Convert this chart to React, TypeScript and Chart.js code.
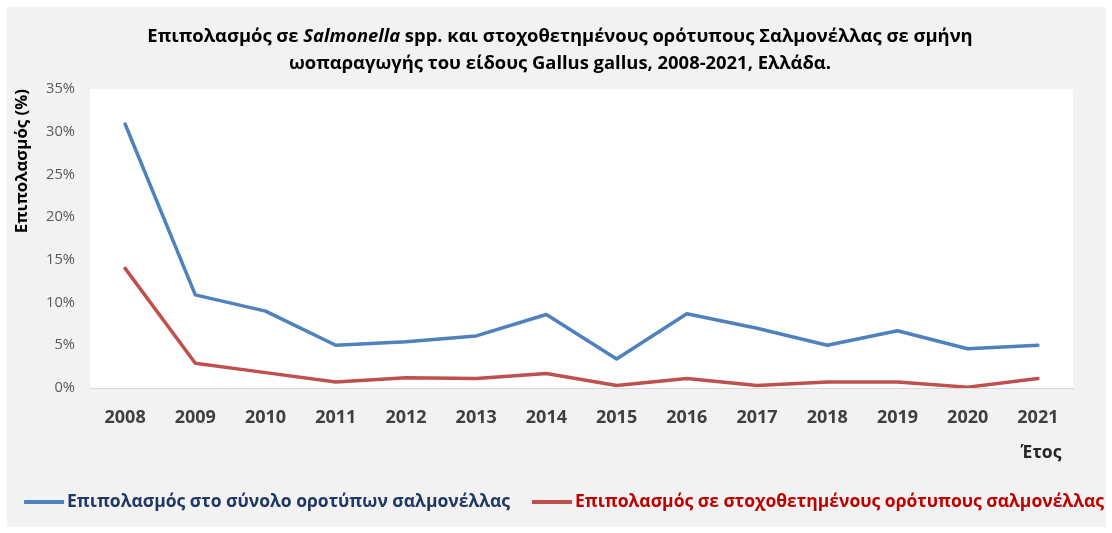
import React, { useEffect, useRef } from "react";
import { Chart, registerables } from "chart.js";

Chart.register(...registerables);

const years = ["2008", "2009", "2010", "2011", "2012", "2013", "2014", "2015", "2016", "2017", "2018", "2019", "2020", "2021"];
const totalSerotypes = [30.9, 10.9, 9.0, 5.0, 5.4, 6.1, 8.6, 3.4, 8.7, 7.0, 5.0, 6.7, 4.6, 5.0];
const targetSerotypes = [14.0, 2.9, 1.8, 0.7, 1.2, 1.1, 1.7, 0.3, 1.1, 0.3, 0.7, 0.7, 0.1, 1.1];
const yMax = 35;
const yStep = 5;

const seriesLabels = [
  "Επιπολασμός στο σύνολο οροτύπων σαλμονέλλας",
  "Επιπολασμός σε στοχοθετημένους ορότυπους σαλμονέλλας",
];
const titleLine1 = [
  { text: "Επιπολασμός σε ", italic: false },
  { text: "Salmonella", italic: true },
  { text: " spp. και στοχοθετημένους ορότυπους Σαλμονέλλας σε σμήνη", italic: false },
];
const titleLine2 = "ωοπαραγωγής του είδους Gallus gallus, 2008-2021, Ελλάδα.";
const xAxisTitle = "Έτος";
const yAxisTitle = "Επιπολασμός (%)";

const FONT = "'Open Sans', 'Noto Sans', sans-serif";
const BLUE = "#4F81BD";
const RED = "#C0504D";

const decorPlugin = {
  id: "decor",
  beforeDraw(chart: any) {
    const { ctx, chartArea } = chart;
    ctx.save();
    ctx.fillStyle = "#ffffff";
    ctx.fillRect(chartArea.left, chartArea.top, chartArea.right - chartArea.left, chartArea.bottom - chartArea.top);
    ctx.restore();
  },
  afterDraw(chart: any) {
    const ctx = chart.ctx as CanvasRenderingContext2D;
    ctx.save();
    ctx.textBaseline = "middle";
    ctx.textAlign = "left";
    // Title
    const cx = 553;
    const tSize = 18.4;
    ctx.fillStyle = "#000000";
    const fontFor = (italic: boolean) => `${italic ? "italic " : ""}bold ${tSize}px ${FONT}`;
    let total = 0;
    const widths = titleLine1.map((s) => {
      ctx.font = fontFor(s.italic);
      const w = ctx.measureText(s.text).width;
      total += w;
      return w;
    });
    let x = cx - total / 2;
    titleLine1.forEach((s, i) => {
      ctx.font = fontFor(s.italic);
      ctx.fillText(s.text, x, 30);
      x += widths[i];
    });
    ctx.font = fontFor(false);
    ctx.textAlign = "center";
    ctx.fillText(titleLine2, cx, 57);

    // x axis title
    ctx.fillStyle = "#262626";
    ctx.font = `bold 17.5px ${FONT}`;
    ctx.fillText(xAxisTitle, 1034, 446);

    // Legend
    const items = [
      { label: seriesLabels[0], color: BLUE, textColor: "#1F3864" },
      { label: seriesLabels[1], color: RED, textColor: "#C00000" },
    ];
    const lineLen = 40;
    const gap = 3;
    const itemGap = 22;
    ctx.font = `bold 17.5px ${FONT}`;
    const tw = items.map((it) => ctx.measureText(it.label).width);
    const totalW = tw.reduce((a, b) => a + b, 0) + items.length * (lineLen + gap) + itemGap * (items.length - 1);
    let lx = 557 - totalW / 2;
    const ly = 495;
    ctx.textAlign = "left";
    items.forEach((it, i) => {
      ctx.strokeStyle = it.color;
      ctx.lineWidth = 4;
      ctx.lineCap = "butt";
      ctx.beginPath();
      ctx.moveTo(lx, ly);
      ctx.lineTo(lx + lineLen, ly);
      ctx.stroke();
      lx += lineLen + gap;
      ctx.fillStyle = it.textColor;
      ctx.fillText(it.label, lx, ly);
      lx += tw[i] + itemGap;
    });
    ctx.restore();
  },
};

export default function App() {
  const ref = useRef<HTMLCanvasElement | null>(null);
  useEffect(() => {
    if (!ref.current) return;
    const chart = new Chart(ref.current, {
      type: "line",
      data: {
        labels: years,
        datasets: [
          {
            label: seriesLabels[0],
            data: totalSerotypes,
            borderColor: BLUE,
            backgroundColor: BLUE,
            borderWidth: 3.5,
            pointRadius: 0,
            tension: 0,
            borderCapStyle: "round",
            borderJoinStyle: "round",
          },
          {
            label: seriesLabels[1],
            data: targetSerotypes,
            borderColor: RED,
            backgroundColor: RED,
            borderWidth: 3.5,
            pointRadius: 0,
            tension: 0,
            borderCapStyle: "round",
            borderJoinStyle: "round",
          },
        ],
      },
      options: {
        responsive: false,
        animation: false,
        devicePixelRatio: 1,
        layout: { padding: { top: 82, left: 0, right: 33, bottom: 79 } },
        plugins: {
          legend: { display: false },
          title: { display: false },
          tooltip: { enabled: false },
        },
        scales: {
          x: {
            type: "category",
            offset: true,
            grid: { display: false, drawTicks: false },
            border: { display: true, color: "#d9d9d9", width: 1 },
            ticks: {
              padding: 19,
              color: "#404040",
              font: { family: FONT, size: 18, weight: "bold" },
              maxRotation: 0,
              autoSkip: false,
            },
            afterFit: (axis: any) => {
              axis.height = 60;
            },
          },
          y: {
            min: 0,
            max: yMax,
            grid: { display: false, drawTicks: false },
            border: { display: false },
            ticks: {
              stepSize: yStep,
              padding: 15,
              color: "#595959",
              font: { family: FONT, size: 14.7 },
              callback: (v: any) => `${v}%`,
            },
            title: {
              display: true,
              text: yAxisTitle,
              align: "end",
              color: "#000000",
              font: { family: FONT, size: 16.8, weight: "bold" },
              padding: { top: 5, bottom: 0 },
            },
            afterFit: (axis: any) => {
              axis.width = 83;
            },
          },
        },
      },
      plugins: [decorPlugin],
    } as any);
    return () => chart.destroy();
  }, []);

  return (
    <div
      style={{
        position: "absolute",
        left: 7,
        top: 7,
        width: 1099,
        height: 520,
        background: "#f2f2f2",
      }}
    >
      <canvas ref={ref} width={1099} height={520} style={{ display: "block" }} />
    </div>
  );
}
